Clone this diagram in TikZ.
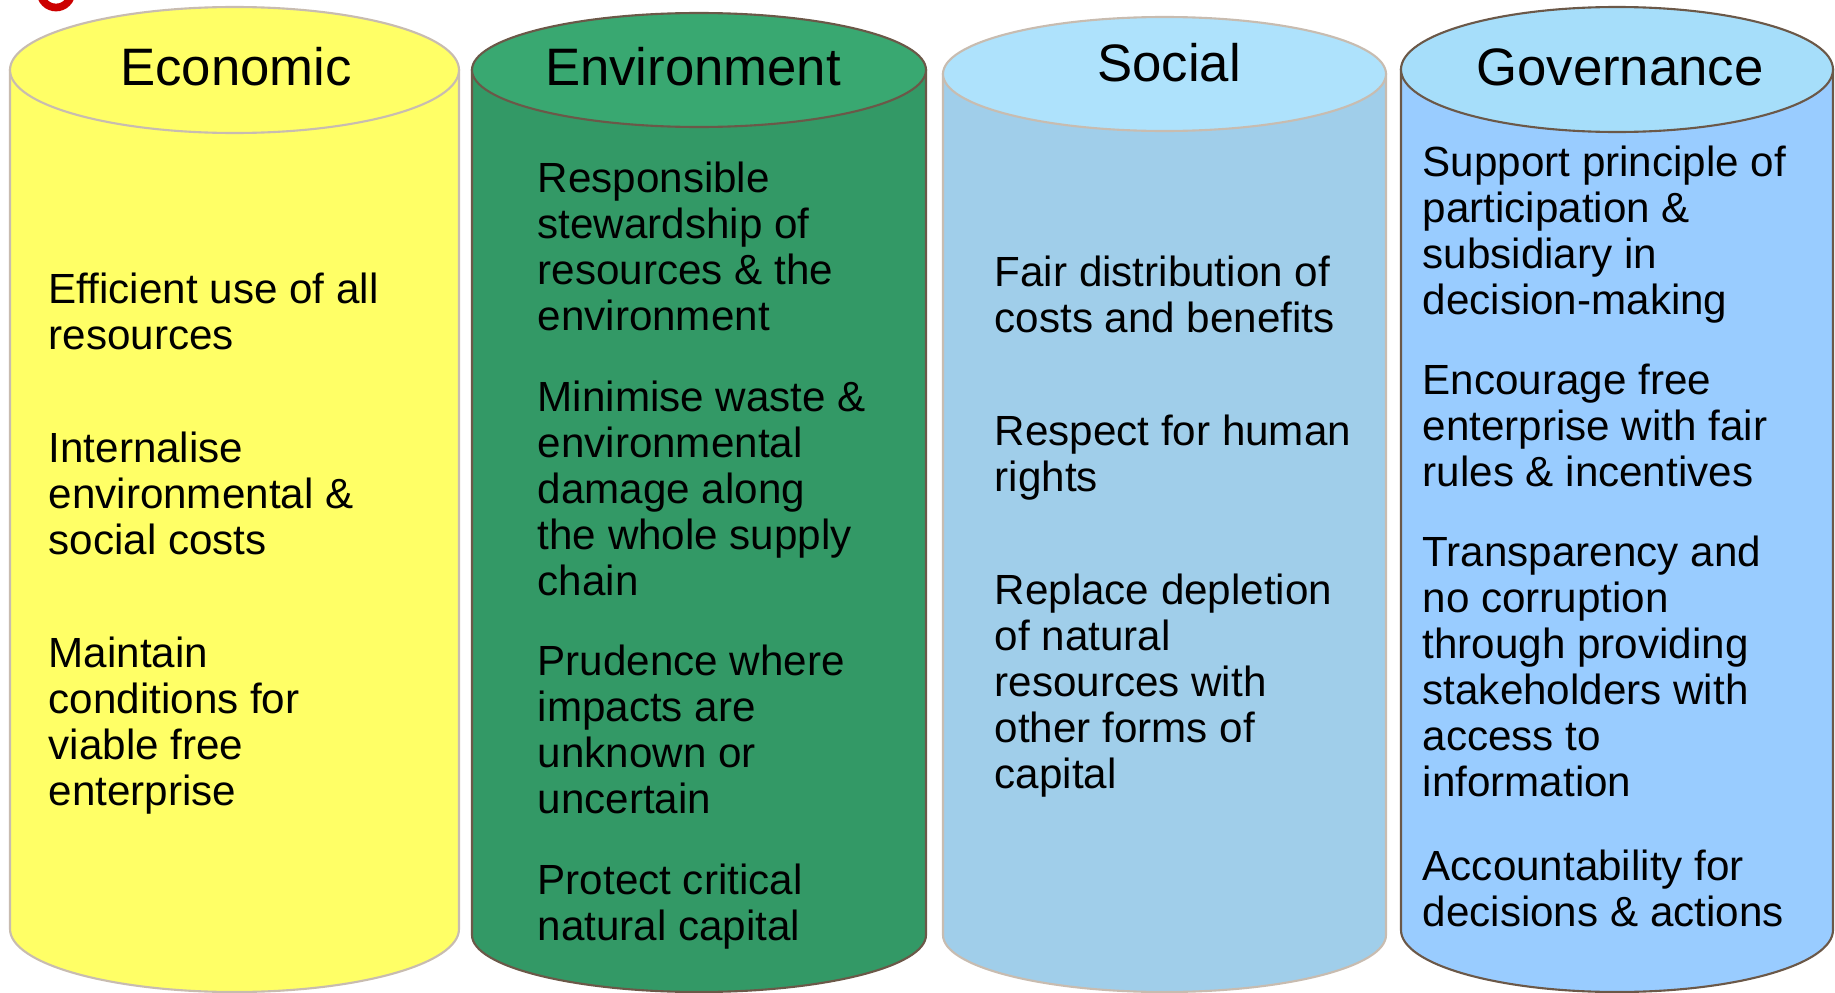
\documentclass[tikz,border=0pt]{standalone}
\usepackage{fontspec}
\setmainfont{Liberation Sans}
\definecolor{ecofill}{HTML}{FFFF66}
\definecolor{paleline}{HTML}{C8BCB0}
\definecolor{darkline}{HTML}{6B5848}
\definecolor{envtop}{HTML}{39A871}
\definecolor{envbody}{HTML}{339966}
\definecolor{soctop}{HTML}{AEE2FC}
\definecolor{socbody}{HTML}{A0CEEA}
\definecolor{govtop}{HTML}{A6DEFA}
\definecolor{govbody}{HTML}{99CCFF}
\definecolor{markred}{HTML}{CC0000}
\begin{document}
\begin{tikzpicture}[rim/.style={line width=0.6pt},
ttl/.style={anchor=base,inner sep=0pt,font=\fontsize{15}{18}\selectfont},
itm/.style={anchor=north west,align=left,inner sep=0pt,font=\fontsize{12}{13.09}\selectfont,execute at begin node=\strut}]
\clip (0,0) rectangle (18.35,-9.93);
\fill[white] (0,0) rectangle (18.35,-9.93);
\draw[line width=2.2pt,markred] (0.56,0.08) circle[radius=0.155];
% Economic
\draw[rim,draw=paleline,fill=ecofill] (0.10,-0.70) -- (0.10,-9.29) arc[start angle=180,end angle=360,x radius=2.245,y radius=0.63] -- (4.59,-0.70) -- cycle;
\draw[rim,draw=paleline,fill=ecofill] (2.345,-0.70) ellipse[x radius=2.245,y radius=0.63];
% Environment
\draw[rim,draw=darkline,fill=envbody] (4.72,-0.70) -- (4.72,-9.35) arc[start angle=180,end angle=360,x radius=2.27,y radius=0.57] -- (9.26,-0.70) -- cycle;
\draw[rim,draw=darkline,fill=envtop] (6.99,-0.70) ellipse[x radius=2.27,y radius=0.57];
% Social
\draw[rim,draw=paleline,fill=socbody] (9.43,-0.74) -- (9.43,-9.35) arc[start angle=180,end angle=360,x radius=2.215,y radius=0.57] -- (13.86,-0.74) -- cycle;
\draw[rim,draw=paleline,fill=soctop] (11.645,-0.74) ellipse[x radius=2.215,y radius=0.57];
% Governance
\draw[rim,draw=darkline,fill=govbody] (14.01,-0.695) -- (14.01,-9.30) arc[start angle=180,end angle=360,x radius=2.16,y radius=0.62] -- (18.33,-0.695) -- cycle;
\draw[rim,draw=darkline,fill=govtop] (16.17,-0.695) ellipse[x radius=2.16,y radius=0.625];
% titles
\node[ttl] (TA) at (2.36,-0.86) {Economic};
\node[ttl] (TB) at (6.93,-0.86) {Environment};
\node[ttl] (TC) at (11.69,-0.81) {Social};
\node[ttl] (TD) at (16.20,-0.85) {Governance};
% items
\node[itm] (EA) at (0.48,-2.727) {Efficient use of all\\resources};
\node[itm] (EB) at (0.48,-4.317) {Internalise\\environmental \&\\social costs};
\node[itm] (EC) at (0.48,-6.367) {Maintain\\conditions for\\viable free\\enterprise};
\node[itm] (NA) at (5.37,-1.617) {Responsible\\stewardship of\\resources \& the\\environment};
\node[itm] (NB) at (5.37,-3.807) {Minimise waste \&\\environmental\\damage along\\the whole supply\\chain};
\node[itm] (NC) at (5.37,-6.447) {Prudence where\\impacts are\\unknown or\\uncertain};
\node[itm] (ND) at (5.37,-8.637) {Protect critical\\natural capital};
\node[itm] (SA) at (9.94,-2.557) {Fair distribution of\\costs and benefits};
\node[itm] (SB) at (9.94,-4.147) {Respect for human\\rights};
\node[itm] (SC) at (9.94,-5.737) {Replace depletion\\of natural\\resources with\\other forms of\\capital};
\node[itm] (GA) at (14.22,-1.452) {Support principle of\\participation \&\\subsidiary in\\decision-making};
\node[itm] (GB) at (14.22,-3.637) {Encourage free\\enterprise with fair\\rules \& incentives};
\node[itm] (GC) at (14.22,-5.357) {Transparency and\\no corruption\\through providing\\stakeholders with\\access to\\information};
\node[itm] (GD) at (14.22,-8.497) {Accountability for\\decisions \& actions};
\end{tikzpicture}
\end{document}
